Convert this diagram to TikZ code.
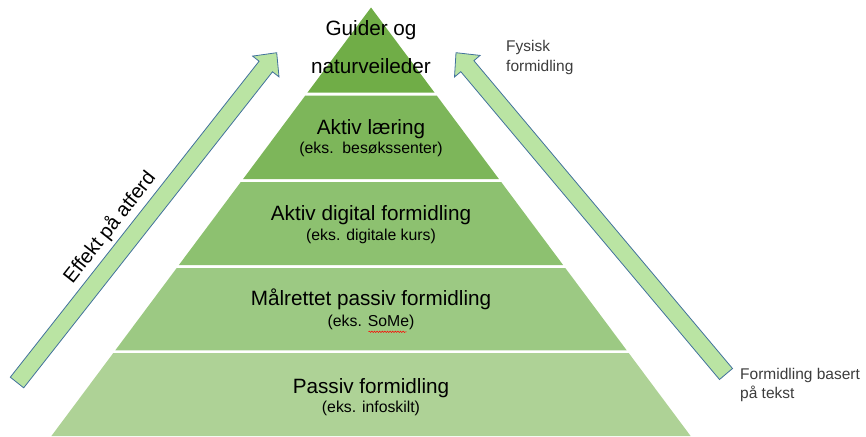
\documentclass[tikz,border=0pt]{standalone}
\usepackage{fontspec}
\setmainfont{Liberation Sans}
\usetikzlibrary{decorations.pathmorphing}
\definecolor{gA}{RGB}{112,173,71}
\definecolor{gB}{RGB}{125,182,90}
\definecolor{gC}{RGB}{141,193,112}
\definecolor{gD}{RGB}{156,201,131}
\definecolor{gE}{RGB}{174,210,150}
\definecolor{arrowfill}{RGB}{186,228,163}
\definecolor{arrowline}{RGB}{65,113,156}
\definecolor{sidetext}{RGB}{60,60,60}
\begin{document}
\begin{tikzpicture}[x=1pt,y=-1pt,
  lbl/.style={anchor=base, inner sep=0, font=\fontsize{20.7}{24}\selectfont},
  sublbl/.style={anchor=base, inner sep=0, font=\fontsize{15.8}{19}\selectfont},
  side/.style={anchor=base west, inner sep=0, text=sidetext, font=\fontsize{15.5}{19}\selectfont},
  blockarrow/.style={fill=arrowfill, draw=arrowline, line width=0.8pt, line join=miter}]
\useasboundingbox (0,0) rectangle (866,436);

% pyramid bands
\fill[gA] (371,7.5) -- (434.6,92.7) -- (307.4,92.7) -- cycle;
\fill[gB] (305.2,95.7) -- (436.8,95.7) -- (498.9,179) -- (243.1,179) -- cycle;
\fill[gC] (240.8,182) -- (501.2,182) -- (563.1,265) -- (178.9,265) -- cycle;
\fill[gD] (176.7,268) -- (565.3,268) -- (626.7,350.3) -- (115.3,350.3) -- cycle;
\fill[gE] (113.3,353) -- (628.7,353) -- (690.6,436) -- (51.4,436) -- cycle;

% block arrows
\draw[blockarrow] (10.3,377.2) -- (259.1,61.2) -- (252.6,56.1) -- (276.7,52.7)
  -- (279.0,76.9) -- (272.5,71.8) -- (23.7,387.8) -- cycle;
\draw[blockarrow] (719.5,379.5) -- (460.8,71.7) -- (454.5,77.0) -- (456,52.7)
  -- (480.1,55.4) -- (473.9,60.7) -- (732.5,368.5) -- cycle;

% pyramid labels
\node[lbl] (guider) at (371,36) {Guider og};
\node[lbl] (natur) at (371,74) {naturveileder};
\node[lbl] (aktiv) at (371,134) {Aktiv læring};
\node[sublbl] (aktivsub) at (371,153.3) {(eks.\ \ besøkssenter)};
\node[lbl] (digital) at (371,220) {Aktiv digital formidling};
\node[sublbl] (digitalsub) at (371,240.5) {(eks. digitale kurs)};
\node[lbl] (maal) at (371,305) {Målrettet passiv formidling};
\node[sublbl] (maalsub) at (371,326) {(eks. SoMe)};
\node[lbl] (passiv) at (371,393.3) {Passiv formidling};
\node[sublbl] (passivsub) at (371,412) {(eks. infoskilt)};

% spell-check squiggle under SoMe
\draw[red, line width=0.5pt, decorate, decoration={snake, amplitude=0.7pt, segment length=2.6pt}]
  (368.5,331.8) -- (406.5,331.8);

% arrow labels
\node[anchor=base, inner sep=0, rotate=51.8, font=\fontsize{20}{24}\selectfont] (effekt) at (114.5,231.2) {Effekt på atferd};
\node[side] (fys1) at (506,52) {Fysisk};
\node[side] (fys2) at (506,71) {formidling};
\node[side] (tekst1) at (740,379) {Formidling basert};
\node[side] (tekst2) at (740,398) {på tekst};
\end{tikzpicture}
\end{document}
